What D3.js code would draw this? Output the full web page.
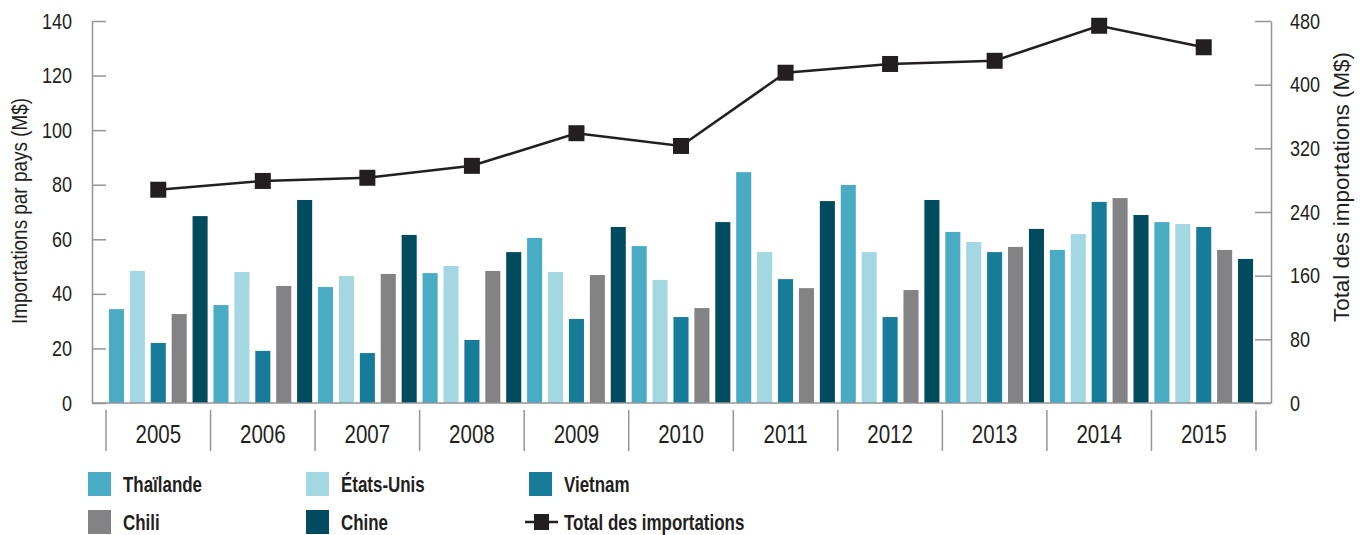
<!DOCTYPE html>
<html>
<head>
<meta charset="utf-8">
<script src="https://cdn.jsdelivr.net/npm/d3@7"></script>
<style>
  html, body { margin: 0; padding: 0; background: #fff; }
  svg { display: block; }
  text { fill: #231f20; font-family: "Liberation Sans", Arial, Helvetica, sans-serif; }
</style>
</head>
<body>
<svg id="chart" width="1366" height="535"></svg>
<script>
const years = ["2005","2006","2007","2008","2009","2010","2011","2012","2013","2014","2015"];
const seriesNames = ["Thaïlande","États-Unis","Vietnam","Chili","Chine"];
const thailande = [34.4, 35.9, 42.5, 47.6, 60.5, 57.5, 84.6, 79.9, 62.7, 56.1, 66.3];
const etatsUnis = [48.4, 48.0, 46.5, 50.2, 48.0, 45.1, 55.3, 55.3, 59.0, 61.9, 65.6];
const vietnam   = [22.0, 19.1, 18.3, 23.1, 30.8, 31.5, 45.4, 31.5, 55.3, 73.7, 64.5];
const chili     = [32.6, 42.9, 47.3, 48.4, 46.9, 34.8, 42.1, 41.4, 57.2, 75.1, 56.1];
const chine     = [68.5, 74.4, 61.6, 55.3, 64.5, 66.3, 74.0, 74.4, 63.8, 68.9, 52.8];
const total     = [268, 279, 283, 298, 339, 323, 415, 426, 430, 474, 447];
const totalName = "Total des importations";
const leftTicks = [0, 20, 40, 60, 80, 100, 120, 140];
const rightTicks = [0, 80, 160, 240, 320, 400, 480];
const leftTitle = "Importations par pays (M$)";
const rightTitle = "Total des importations (M$)";

const colors = ["#49acc4", "#a3d7e1", "#177c99", "#838386", "#004b5e"];
const seriesValues = [thailande, etatsUnis, vietnam, chili, chine];
const axisColor = "#939598";
const ink = "#231f20";
const narrow = 0.82; // horizontal compression to mimic a condensed face

const svg = d3.select("#chart");
const axL = 92, axR = 1271, plotTop = 21, base = 403;

const x = d3.scaleBand().domain(years).range([106, 1256]);
const xi = d3.scaleBand().domain(seriesNames).range([0, x.bandwidth()]).paddingInner(0.28).paddingOuter(0.14);
const yL = d3.scaleLinear().domain([0, 140]).range([base, plotTop]);
const yR = d3.scaleLinear().domain([0, 480]).range([base, plotTop]);

// bars
const groups = svg.append("g").selectAll("g").data(years).join("g")
  .attr("transform", d => `translate(${x(d)},0)`);
groups.selectAll("rect")
  .data((yr, i) => seriesNames.map((s, k) => ({ s, k, v: seriesValues[k][i] })))
  .join("rect")
  .attr("x", d => xi(d.s))
  .attr("width", xi.bandwidth())
  .attr("y", d => yL(d.v))
  .attr("height", d => base - yL(d.v))
  .attr("fill", d => colors[d.k]);

// axes
const gL = svg.append("g").attr("transform", `translate(${axL},0)`)
  .call(d3.axisLeft(yL).tickValues(leftTicks).tickSizeInner(-14).tickSizeOuter(0).tickPadding(20));
const gR = svg.append("g").attr("transform", `translate(${axR},0)`)
  .call(d3.axisRight(yR).tickValues(rightTicks).tickSizeInner(-16).tickSizeOuter(0).tickPadding(19));
[gL, gR].forEach(g => {
  g.select(".domain").attr("stroke", axisColor).attr("stroke-width", 1.5);
  g.selectAll(".tick line").attr("stroke", axisColor).attr("stroke-width", 1.5);
  g.selectAll(".tick text").each(function () {
    const t = d3.select(this);
    const tx = +t.attr("x");
    t.attr("x", 0).attr("transform", `translate(${tx},0) scale(${narrow},1)`);
  }).attr("font-size", 22).attr("fill", ink)
    .attr("font-family", '"Liberation Sans", Arial, sans-serif');
});

// baseline
svg.append("line").attr("x1", axL).attr("x2", axR).attr("y1", base).attr("y2", base)
  .attr("stroke", axisColor).attr("stroke-width", 1.5);

// category separators
const seps = years.map(d => x(d)).concat([x.range()[1]]);
svg.append("g").selectAll("line").data(seps).join("line")
  .attr("x1", d => d).attr("x2", d => d).attr("y1", 410).attr("y2", 451)
  .attr("stroke", axisColor).attr("stroke-width", 1.5);

// year labels
svg.append("g").selectAll("text").data(years).join("text")
  .attr("transform", d => `translate(${x(d) + x.bandwidth() / 2},434) scale(${narrow},1)`)
  .attr("text-anchor", "middle").attr("dominant-baseline", "central")
  .attr("font-size", 25).text(d => d);

// total line
const line = d3.line().x((d, i) => x(years[i]) + x.bandwidth() / 2).y(d => yR(d));
svg.append("path").datum(total).attr("d", line)
  .attr("fill", "none").attr("stroke", ink).attr("stroke-width", 2.6);
svg.append("g").selectAll("rect").data(total).join("rect")
  .attr("x", (d, i) => x(years[i]) + x.bandwidth() / 2 - 8)
  .attr("y", d => yR(d) - 8).attr("width", 16).attr("height", 16).attr("fill", ink);

// axis titles
svg.append("text").attr("transform", "translate(19,211) rotate(-90) scale(0.86,1)")
  .attr("text-anchor", "middle").attr("dominant-baseline", "central")
  .attr("font-size", 22).text(leftTitle);
svg.append("text").attr("transform", "translate(1341,187) rotate(-90)")
  .attr("text-anchor", "middle").attr("dominant-baseline", "central")
  .attr("font-size", 22.4).text(rightTitle);

// legend
const legendItems = seriesNames.map((s, k) => ({ name: s, color: colors[k], type: "rect" }))
  .concat([{ name: totalName, color: ink, type: "line" }]);
const colX = [88, 306, 529];
const rowY = [484, 522];
const lg = svg.append("g").selectAll("g").data(legendItems).join("g")
  .attr("transform", (d, i) => `translate(${colX[i % 3]},${rowY[Math.floor(i / 3)]})`);
lg.each(function (d) {
  const g = d3.select(this);
  if (d.type === "rect") {
    g.append("rect").attr("x", 0).attr("y", -12).attr("width", 23).attr("height", 24).attr("fill", d.color);
  } else {
    g.append("line").attr("x1", -4).attr("x2", 29).attr("y1", 0).attr("y2", 0)
      .attr("stroke", d.color).attr("stroke-width", 2.6);
    g.append("rect").attr("x", 5).attr("y", -8).attr("width", 15).attr("height", 16).attr("fill", d.color);
  }
  g.append("text").attr("transform", "translate(35,0) scale(0.77,1)")
    .attr("dominant-baseline", "central").attr("font-weight", "bold")
    .attr("font-size", 22).text(d.name);
});
</script>
</body>
</html>
